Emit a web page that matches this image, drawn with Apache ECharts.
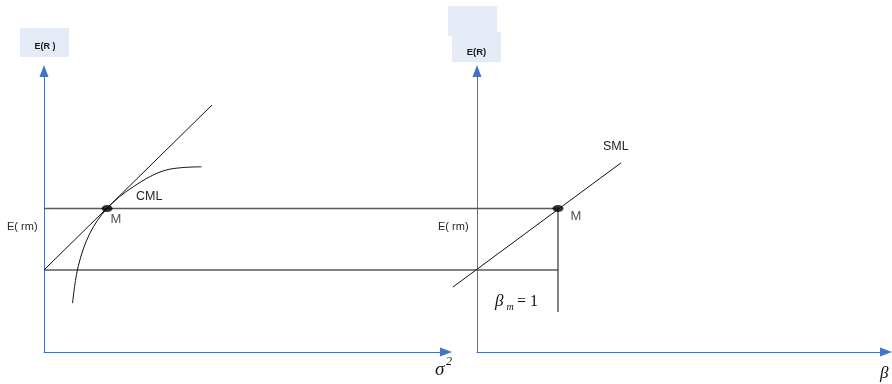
<!DOCTYPE html>
<html>
<head>
<meta charset="utf-8">
<script src="https://cdn.jsdelivr.net/npm/echarts@6/dist/echarts.min.js"></script>
<style>
  html, body { margin: 0; padding: 0; background: #fff; }
  #main { width: 892px; height: 384px; }
</style>
</head>
<body>
<div id="main"></div>
<script>
// levels (shared y scale, 0..100)
const riskFree = 29.2;
const marketReturn = 51.1;

// left panel: CML and frontier, x = variance
const cmlLine = [[0, 29.2], [41.8, 87.9]];
const frontier = [
    [7.1, 17.4], [8.5, 30.4], [11.4, 42.2], [15.7, 51.1],
    [22.2, 58.8], [30.5, 64.8], [39.2, 65.9]
];
const marketLeft = [15.7, 51.1];
const levelEnd = 127.9; // horizontal guides run over to the right panel

// right panel: SML, x = beta
const smlLine = [[-5.9, 23.1], [35.2, 67.3]];
const marketRight = [19.8, 51.1];
const betaDrop = [[19.8, 51.1], [19.8, 14.2]];

const axisBlue = '#4472c4';
const textColor = '#262626';
const boxFill = '#e5ebf6';
const ellipse = 'path://M0,5a8,5 0 1,0 16,0a8,5 0 1,0 -16,0z';

function axisStyle(extra) {
    return Object.assign({
        type: 'value',
        min: 0,
        max: 100,
        axisLine: {
            show: true,
            symbol: ['none', 'triangle'],
            symbolSize: [9, 12],
            lineStyle: { color: axisBlue, width: 1 }
        },
        axisTick: { show: false },
        axisLabel: { show: false },
        splitLine: { show: false }
    }, extra || {});
}

function hiddenAxis(extra) {
    return Object.assign({ type: 'value', show: false, min: 0, max: 100 }, extra);
}

const chart = echarts.init(document.getElementById('main'));
const option = {
    animation: false,
    backgroundColor: '#fff',
    grid: [
        { left: 44, top: 71, width: 402, height: 281 },
        { left: 477, top: 71, width: 409, height: 281 },
        // guides reaching across both panels
        { left: 44, top: 71, width: 514, height: 281 },
        // right panel scale, extended a little left of beta = 0
        { left: 452.46, top: 71, width: 433.54, height: 281 }
    ],
    xAxis: [
        axisStyle({ gridIndex: 0 }),
        axisStyle({ gridIndex: 1 }),
        hiddenAxis({ gridIndex: 2, max: levelEnd }),
        hiddenAxis({ gridIndex: 3, min: -6 })
    ],
    yAxis: [
        axisStyle({ gridIndex: 0 }),
        axisStyle({ gridIndex: 1 }),
        hiddenAxis({ gridIndex: 2 }),
        hiddenAxis({ gridIndex: 3 })
    ],
    series: [
        {
            type: 'line',
            xAxisIndex: 2, yAxisIndex: 2,
            data: [[0, marketReturn], [levelEnd, marketReturn]],
            symbol: 'none',
            lineStyle: { color: '#5a5a5a', width: 1.5 }
        },
        {
            type: 'line',
            xAxisIndex: 2, yAxisIndex: 2,
            data: [[0, riskFree], [levelEnd, riskFree]],
            symbol: 'none',
            lineStyle: { color: '#5a5a5a', width: 1.5 }
        },
        {
            type: 'line',
            xAxisIndex: 0, yAxisIndex: 0,
            data: cmlLine,
            symbol: 'none',
            lineStyle: { color: '#111', width: 1 }
        },
        {
            type: 'line',
            xAxisIndex: 0, yAxisIndex: 0,
            data: frontier,
            smooth: 0.35,
            symbol: 'none',
            lineStyle: { color: '#111', width: 1 }
        },
        {
            type: 'scatter',
            xAxisIndex: 0, yAxisIndex: 0,
            data: [marketLeft],
            symbol: ellipse,
            symbolSize: [11, 7],
            itemStyle: { color: '#000' },
            z: 5,
            label: {
                show: true, formatter: 'M', position: [9, 8],
                color: textColor, fontSize: 13, fontFamily: 'Liberation Sans'
            }
        },
        {
            type: 'line',
            xAxisIndex: 3, yAxisIndex: 3,
            data: smlLine,
            symbol: 'none',
            lineStyle: { color: '#111', width: 1 }
        },
        {
            type: 'line',
            xAxisIndex: 1, yAxisIndex: 1,
            data: betaDrop,
            symbol: 'none',
            lineStyle: { color: '#333', width: 1.2 }
        },
        {
            type: 'scatter',
            xAxisIndex: 1, yAxisIndex: 1,
            data: [marketRight],
            symbol: ellipse,
            symbolSize: [11, 7],
            itemStyle: { color: '#000' },
            z: 5,
            label: {
                show: true, formatter: 'M', position: [18, 5],
                color: textColor, fontSize: 13, fontFamily: 'Liberation Sans'
            }
        }
    ],
    graphic: [
        // axis title boxes
        { type: 'rect', shape: { x: 20, y: 28, width: 49, height: 29 }, style: { fill: boxFill }, z: 1 },
        { type: 'text', x: 45, y: 46.5, style: { text: 'E(R )', font: 'bold 9px "Liberation Sans"', fill: '#1a1a1a', align: 'center', verticalAlign: 'middle' }, z: 2 },
        { type: 'rect', shape: { x: 448, y: 6, width: 49, height: 30 }, style: { fill: boxFill }, z: 1 },
        { type: 'rect', shape: { x: 452, y: 32, width: 49, height: 30 }, style: { fill: boxFill }, z: 1 },
        { type: 'text', x: 476.5, y: 52, style: { text: 'E(R)', font: 'bold 9.5px "Liberation Sans"', fill: '#1a1a1a', align: 'center', verticalAlign: 'middle' }, z: 2 },
        // line labels
        { type: 'text', x: 7, y: 227, style: { text: 'E( rm)', font: '11px "Liberation Sans"', fill: textColor, verticalAlign: 'middle' } },
        { type: 'text', x: 136, y: 197, style: { text: 'CML', font: '12.5px "Liberation Sans"', fill: textColor, verticalAlign: 'middle' } },
        { type: 'text', x: 438, y: 227, style: { text: 'E( rm)', font: '11px "Liberation Sans"', fill: textColor, verticalAlign: 'middle' } },
        { type: 'text', x: 603, y: 147, style: { text: 'SML', font: '12.5px "Liberation Sans"', fill: textColor, verticalAlign: 'middle' } },
        // axis symbols
        { type: 'text', x: 435, y: 370, style: { text: 'σ', font: 'italic 19px "Liberation Serif"', fill: '#111', verticalAlign: 'middle' } },
        { type: 'text', x: 446, y: 362, style: { text: '2', font: 'italic 12px "Liberation Serif"', fill: '#111', verticalAlign: 'middle' } },
        { type: 'text', x: 880, y: 374, style: { text: 'β', font: 'italic 17px "Liberation Serif"', fill: '#111', verticalAlign: 'middle' } },
        { type: 'text', x: 495, y: 302, style: { text: 'β', font: 'italic 17px "Liberation Serif"', fill: '#111', verticalAlign: 'middle' } },
        { type: 'text', x: 506.5, y: 307, style: { text: 'm', font: 'italic 10px "Liberation Serif"', fill: '#111', verticalAlign: 'middle' } },
        { type: 'text', x: 517, y: 302, style: { text: '= 1', font: '16px "Liberation Serif"', fill: '#111', verticalAlign: 'middle' } }
    ]
};
chart.setOption(option);
</script>
</body>
</html>
